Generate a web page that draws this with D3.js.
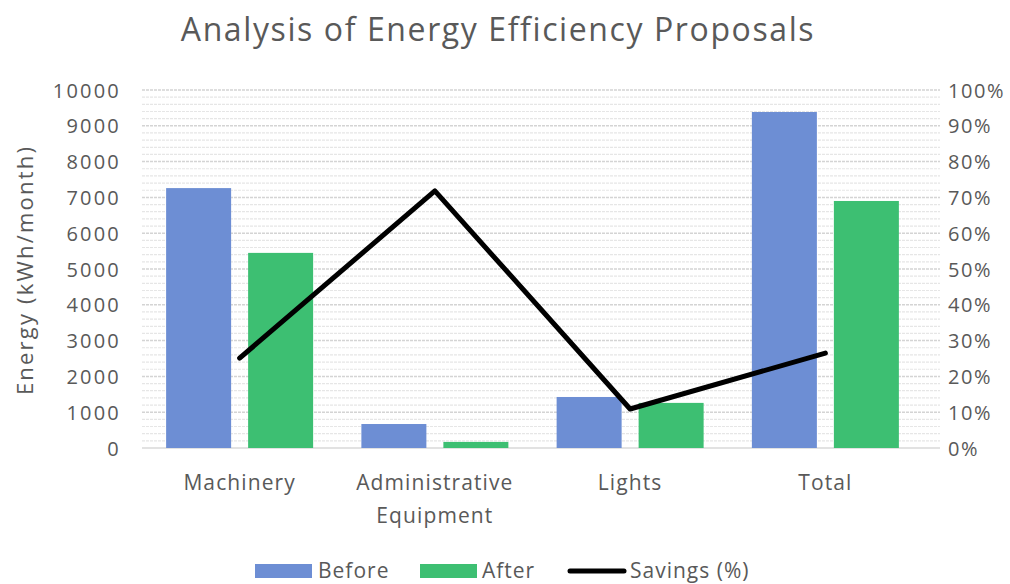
<!DOCTYPE html>
<html>
<head>
<meta charset="utf-8">
<script src="https://cdn.jsdelivr.net/npm/d3@7"></script>
<style>
  body { margin: 0; background: #fff; }
  text { font-family: "Open Sans", sans-serif; fill: #595959; }
</style>
</head>
<body>
<div id="chart"></div>
<script>
var categories = ["Machinery", "Administrative Equipment", "Lights", "Total"];
var before = [7260, 670, 1425, 9385];
var after = [5450, 170, 1260, 6900];
var savings = [25.1, 71.8, 10.9, 26.5];
var energyTicks = d3.range(0, 10001, 1000);
var pctTicks = d3.range(0, 101, 10);

function init() {
    var w = 1010, h = 584;
    var left = 142, right = 923, top = 90, bottom = 448;

    var svg = d3.select("#chart").append("svg")
        .attr("width", w).attr("height", h);

    var x = d3.scaleBand().domain(categories).range([left, right]);
    var yL = d3.scaleLinear().domain([0, 10000]).range([bottom, top]);
    var yR = d3.scaleLinear().domain([0, 100]).range([bottom, top]);

    // minor + major gridlines (dashed, Excel-style)
    var minor = d3.range(0, 10001, 200).filter(function(d) { return d % 1000 !== 0; });
    svg.selectAll("line.minor").data(minor).enter().append("line")
        .attr("x1", left).attr("x2", right + 17)
        .attr("y1", function(d) { return yL(d); }).attr("y2", function(d) { return yL(d); })
        .attr("stroke", "#e6e6e6").attr("stroke-width", 1.2)
        .attr("stroke-dasharray", "3,1");
    svg.selectAll("line.major").data(energyTicks.slice(1)).enter().append("line")
        .attr("x1", left).attr("x2", right + 17)
        .attr("y1", function(d) { return yL(d); }).attr("y2", function(d) { return yL(d); })
        .attr("stroke", "#d4d4d4").attr("stroke-width", 1.5)
        .attr("stroke-dasharray", "3,1");

    // baseline
    svg.append("line")
        .attr("x1", left).attr("x2", right + 17)
        .attr("y1", yL(0)).attr("y2", yL(0))
        .attr("stroke", "#d9d9d9").attr("stroke-width", 1.5);

    var barW = 65, gap = 17;
    var groups = svg.selectAll("g.grp").data(categories).enter().append("g")
        .attr("transform", function(d) { return "translate(" + (x(d) + x.bandwidth() / 2) + ",0)"; });

    groups.append("rect")
        .attr("x", -barW - gap / 2)
        .attr("y", function(d, i) { return yL(before[i]); })
        .attr("width", barW)
        .attr("height", function(d, i) { return yL(0) - yL(before[i]); })
        .attr("fill", "#6d8ed4");
    groups.append("rect")
        .attr("x", gap / 2)
        .attr("y", function(d, i) { return yL(after[i]); })
        .attr("width", barW)
        .attr("height", function(d, i) { return yL(0) - yL(after[i]); })
        .attr("fill", "#3dbf72");

    // savings line on secondary axis
    var line = d3.line()
        .x(function(d, i) { return x(categories[i]) + x.bandwidth() / 2; })
        .y(function(d) { return yR(d); });
    svg.append("path").datum(savings)
        .attr("d", line)
        .attr("fill", "none").attr("stroke", "#000")
        .attr("stroke-width", 5).attr("stroke-linecap", "round")
        .attr("stroke-linejoin", "round");

    // left axis labels
    svg.selectAll("text.yl").data(energyTicks).enter().append("text")
        .attr("x", 121).attr("y", function(d) { return yL(d) + 7.5; })
        .attr("text-anchor", "end").style("font-size", "20px")
        .style("letter-spacing", "2.2px")
        .text(function(d) { return d; });

    // right axis labels
    svg.selectAll("text.yr").data(pctTicks).enter().append("text")
        .attr("x", 948).attr("y", function(d) { return yR(d) + 7.5; })
        .attr("text-anchor", "start").style("font-size", "20px")
        .style("letter-spacing", "1.6px")
        .text(function(d) { return d + "%"; });

    // category labels
    var cat = svg.selectAll("text.cat").data(categories).enter().append("text")
        .attr("x", function(d) { return x(d) + x.bandwidth() / 2; })
        .attr("y", 490)
        .attr("text-anchor", "middle").style("font-size", "21px")
        .style("letter-spacing", "1.1px");
    cat.each(function(d) {
        var words = d.split(" ");
        var t = d3.select(this);
        words.forEach(function(wd, k) {
            t.append("tspan").attr("x", x(d) + x.bandwidth() / 2)
             .attr("dy", k === 0 ? 0 : 33).text(wd);
        });
    });

    // title
    svg.append("text")
        .attr("x", 498).attr("y", 41)
        .attr("text-anchor", "middle").style("font-size", "32px")
        .style("letter-spacing", "1.6px")
        .text("Analysis of Energy Efficiency Proposals");

    // y axis title
    svg.append("text")
        .attr("transform", "translate(33,270) rotate(-90)")
        .attr("text-anchor", "middle").style("font-size", "22px")
        .style("letter-spacing", "2.2px")
        .text("Energy (kWh/month)");

    // legend
    var lg = svg.append("g").style("font-size", "21px").style("letter-spacing", "1px");
    lg.append("rect").attr("x", 255).attr("y", 564).attr("width", 57).attr("height", 14).attr("fill", "#6d8ed4");
    lg.append("text").attr("x", 318).attr("y", 578).text("Before");
    lg.append("rect").attr("x", 420).attr("y", 564).attr("width", 57).attr("height", 14).attr("fill", "#3dbf72");
    lg.append("text").attr("x", 482).attr("y", 578).text("After");
    lg.append("line").attr("x1", 570).attr("x2", 624).attr("y1", 571).attr("y2", 571)
        .attr("stroke", "#000").attr("stroke-width", 5).attr("stroke-linecap", "round");
    lg.append("text").attr("x", 630).attr("y", 578).text("Savings (%)");
}

window.onload = init;
</script>
</body>
</html>
